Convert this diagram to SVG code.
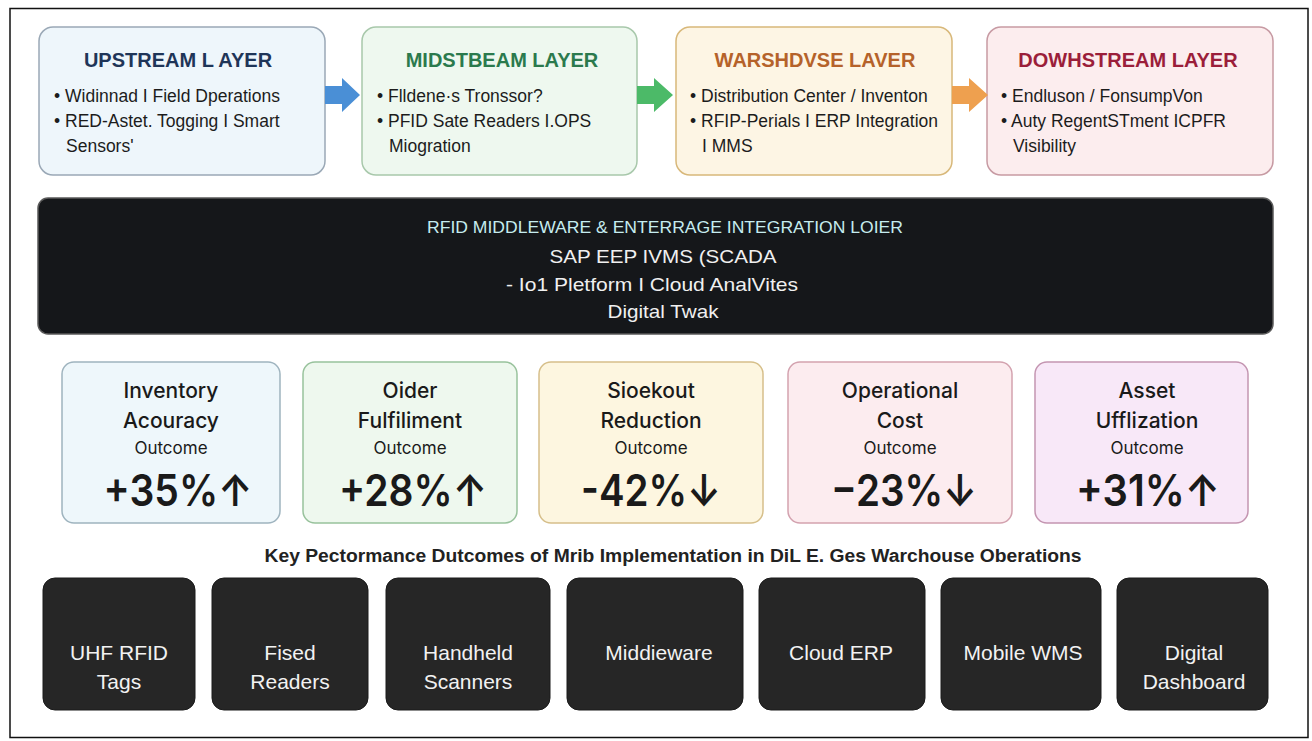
<svg xmlns="http://www.w3.org/2000/svg" width="1312" height="741" viewBox="0 0 1312 741">
<style>
.t{font-family:"Liberation Sans",Arial,sans-serif}
.lt{font-size:20px;font-weight:bold;text-anchor:middle}
.bl{font-size:17.5px;fill:#1c1c1c}
.ot{font-family:Inter,"Liberation Sans",sans-serif;font-size:21px;font-weight:500;fill:#1a1a1a;text-anchor:middle}
.oc{font-family:Inter,"Liberation Sans",sans-serif;font-size:17px;fill:#1a1a1a;text-anchor:middle}
.ov{font-family:Inter,"Liberation Sans",sans-serif;font-size:44px;font-weight:600;fill:#1a1a1a;text-anchor:middle}
.bt{font-size:21px;fill:#f2f2f2;text-anchor:middle}
.band{font-size:19px;fill:#f0f0f0;text-anchor:middle}
.dk{fill:#262626;stroke:#1a1a1a;stroke-width:1}
</style>
<rect x="0" y="0" width="1312" height="741" fill="#ffffff"/>
<rect x="10" y="8.5" width="1298" height="729" fill="none" stroke="#111" stroke-width="1.5"/>

<g id="upstream">
<rect x="39" y="27" width="286" height="148" rx="14" fill="#eef6fb" stroke="#9aa8b6" stroke-width="1.5"/>
<text class="t lt" x="178" y="67" fill="#1f3558">UPSTREAM L AYER</text>
<text class="t bl" x="54" y="102">• Widinnad I Field Dperations</text>
<text class="t bl" x="54" y="127">• RED-Astet. Togging I Smart</text>
<text class="t bl" x="66" y="152">Sensors'</text>
</g>
<g id="midstream">
<rect x="362" y="27" width="275" height="148" rx="14" fill="#eef8ef" stroke="#a8c8ab" stroke-width="1.5"/>
<text class="t lt" x="502" y="67" fill="#2b7a4d">MIDSTBEAM LAYER</text>
<text class="t bl" x="377" y="102">• Flldene·s Tronssor?</text>
<text class="t bl" x="377" y="127">• PFID Sate Readers I.OPS</text>
<text class="t bl" x="389" y="152">Miogration</text>
</g>
<g id="warehouse">
<rect x="676" y="27" width="276" height="148" rx="14" fill="#fdf5e4" stroke="#d8b87a" stroke-width="1.5"/>
<text class="t lt" x="815" y="67" fill="#b5622a">WARSHDVSE LAVER</text>
<text class="t bl" x="690" y="102">• Distribution Center / Inventon</text>
<text class="t bl" x="690" y="127">• RFIP-Perials I ERP Integration</text>
<text class="t bl" x="702" y="152">I MMS</text>
</g>
<g id="downstream">
<rect x="987" y="27" width="286" height="148" rx="14" fill="#fcedee" stroke="#c79aa3" stroke-width="1.5"/>
<text class="t lt" x="1128" y="67" fill="#9b1e3a">DOWHSTREAM LAYER</text>
<text class="t bl" x="1001" y="102">• Endluson / FonsumpVon</text>
<text class="t bl" x="1001" y="127">• Auty RegentSTment ICPFR</text>
<text class="t bl" x="1013" y="152">Visibility</text>
</g>

<g id="connectors">
<polygon points="325,86 342,86 342,78 360,95 342,112 342,104 325,104" fill="#4a8fd6"/>
<polygon points="637,86 654,86 654,78 673,95 654,112 654,104 637,104" fill="#4cba68"/>
<polygon points="952,86 969,86 969,78 988,95 969,112 969,104 952,104" fill="#eea04f"/>
</g>

<g id="middleware">
<rect x="38" y="198" width="1235" height="136" rx="10" fill="#15171a" stroke="#5a5a5a" stroke-width="1.5"/>
<text class="t" x="665" y="233" font-size="17px" fill="#c6ecef" text-anchor="middle" textLength="476" lengthAdjust="spacingAndGlyphs">RFID MIDDLEWARE &amp; ENTERRAGE INTEGRATION LOIER</text>
<text class="t band" x="663" y="263" font-size="20px" textLength="227" lengthAdjust="spacingAndGlyphs">SAP EEP IVMS (SCADA</text>
<text class="t band" x="652" y="291" textLength="292" lengthAdjust="spacingAndGlyphs">- Io1 Pletform I Cloud AnalVites</text>
<text class="t band" x="663" y="318" textLength="111" lengthAdjust="spacingAndGlyphs">Digital Twak</text>
</g>

<g id="outcome-inventory">
<rect x="62" y="362" width="218" height="161" rx="12" fill="#eef7fb" stroke="#9fb4bf" stroke-width="1.5"/>
<text class="ot" x="171" y="398">Inventory</text>
<text class="ot" x="171" y="428">Acouracy</text>
<text class="oc" x="171" y="454">Outcome</text>
<text class="ov" x="178" y="506" textLength="149" lengthAdjust="spacingAndGlyphs">+35%↑</text>
</g>
<g id="outcome-order">
<rect x="303" y="362" width="214" height="161" rx="12" fill="#eef8ee" stroke="#98c29c" stroke-width="1.5"/>
<text class="ot" x="410" y="398">Oider</text>
<text class="ot" x="410" y="428">Fulfiliment</text>
<text class="oc" x="410" y="454">Outcome</text>
<text class="ov" x="413" y="506" textLength="148" lengthAdjust="spacingAndGlyphs">+28%↑</text>
</g>
<g id="outcome-stockout">
<rect x="539" y="362" width="224" height="161" rx="12" fill="#fdf6e0" stroke="#d6bf8a" stroke-width="1.5"/>
<text class="ot" x="651" y="398">Sioekout</text>
<text class="ot" x="651" y="428">Reduction</text>
<text class="oc" x="651" y="454">Outcome</text>
<text class="ov" x="651" y="506" textLength="140" lengthAdjust="spacingAndGlyphs">-42%↓</text>
</g>
<g id="outcome-cost">
<rect x="788" y="362" width="224" height="161" rx="12" fill="#fcecef" stroke="#d3a2af" stroke-width="1.5"/>
<text class="ot" x="900" y="398">Operational</text>
<text class="ot" x="900" y="428">Cost</text>
<text class="oc" x="900" y="454">Outcome</text>
<text class="ov" x="904" y="506" textLength="146" lengthAdjust="spacingAndGlyphs">−23%↓</text>
</g>
<g id="outcome-asset">
<rect x="1035" y="362" width="213" height="161" rx="12" fill="#f8e8f8" stroke="#c495b1" stroke-width="1.5"/>
<text class="ot" x="1147" y="398">Asset</text>
<text class="ot" x="1147" y="428">Ufflization</text>
<text class="oc" x="1147" y="454">Outcome</text>
<text class="ov" x="1148" y="506" textLength="144" lengthAdjust="spacingAndGlyphs">+31%↑</text>
</g>

<text class="t" x="673" y="562" font-size="18px" font-weight="bold" fill="#222" text-anchor="middle" textLength="817" lengthAdjust="spacingAndGlyphs">Key Pectormance Dutcomes of Mrib Implementation in DiL E. Ges Warchouse Oberations</text>

<g id="tech-uhf"><rect class="dk" x="43" y="578" width="152" height="132" rx="12"/><text class="t bt" x="119" y="660">UHF RFID</text><text class="t bt" x="119" y="689">Tags</text></g>
<g id="tech-readers"><rect class="dk" x="212" y="578" width="156" height="132" rx="12"/><text class="t bt" x="290" y="660">Fised</text><text class="t bt" x="290" y="689">Readers</text></g>
<g id="tech-scanners"><rect class="dk" x="386" y="578" width="164" height="132" rx="12"/><text class="t bt" x="468" y="660">Handheld</text><text class="t bt" x="468" y="689">Scanners</text></g>
<g id="tech-middleware"><rect class="dk" x="567" y="578" width="176" height="132" rx="12"/><text class="t bt" x="659" y="660">Middieware</text></g>
<g id="tech-erp"><rect class="dk" x="759" y="578" width="166" height="132" rx="12"/><text class="t bt" x="841" y="660">Cloud ERP</text></g>
<g id="tech-wms"><rect class="dk" x="941" y="578" width="160" height="132" rx="12"/><text class="t bt" x="1023" y="660">Mobile WMS</text></g>
<g id="tech-dashboard"><rect class="dk" x="1117" y="578" width="151" height="132" rx="12"/><text class="t bt" x="1194" y="660">Digital</text><text class="t bt" x="1194" y="689">Dashboard</text></g>
</svg>
